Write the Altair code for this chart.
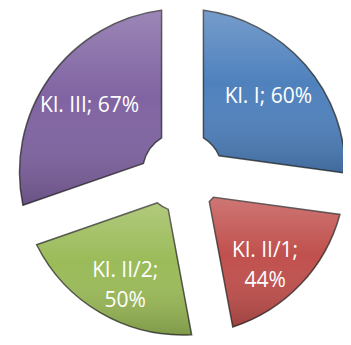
import altair as alt
import pandas as pd

labels = ["Kl. I; 60%", "Kl. II/1;\n44%", "Kl. II/2;\n50%", "Kl. III; 67%"]
categories = ["Kl. I", "Kl. II/1", "Kl. II/2", "Kl. III"]
values = [60, 44, 50, 67]
colors = ["#4F81BD", "#C0504D", "#9BBB59", "#8064A2"]

df = pd.DataFrame({"cat": categories, "value": values, "label": labels, "order": [0, 1, 2, 3]})

base = alt.Chart(df).encode(
    theta=alt.Theta("value:Q", stack=True),
    order=alt.Order("order:Q"),
)

slices = base.mark_arc(outerRadius=163, innerRadius=40, padAngle=0.25,
                       stroke="#1a1a1a", strokeWidth=1.5, strokeOpacity=0.7).encode(
    color=alt.Color("cat:N", scale=alt.Scale(domain=categories, range=colors), legend=None)
)

shade = base.mark_arc(
    outerRadius=163, innerRadius=40, padAngle=0.25,
    color=alt.Gradient(
        gradient="linear", x1=0, x2=0, y1=0, y2=1,
        stops=[alt.GradientStop(color="rgba(255,255,255,0.22)", offset=0),
               alt.GradientStop(color="rgba(255,255,255,0.0)", offset=0.45),
               alt.GradientStop(color="rgba(0,0,0,0.18)", offset=1)],
    ),
)

text = base.mark_text(radius=114, color="white", fontSize=21, font="Open Sans",
                      lineBreak="\n", lineHeight=30, align="center", baseline="middle").encode(
    text="label:N"
)

chart = (slices + shade + text).properties(
    width=335, height=329,
    autosize=alt.AutoSizeParams(type="fit", contains="padding"),
    padding={"left": 14, "right": 0, "top": 0, "bottom": 0},
).configure_view(stroke=None)

chart.save("out.html", embed_options={"renderer": "svg", "actions": False})
